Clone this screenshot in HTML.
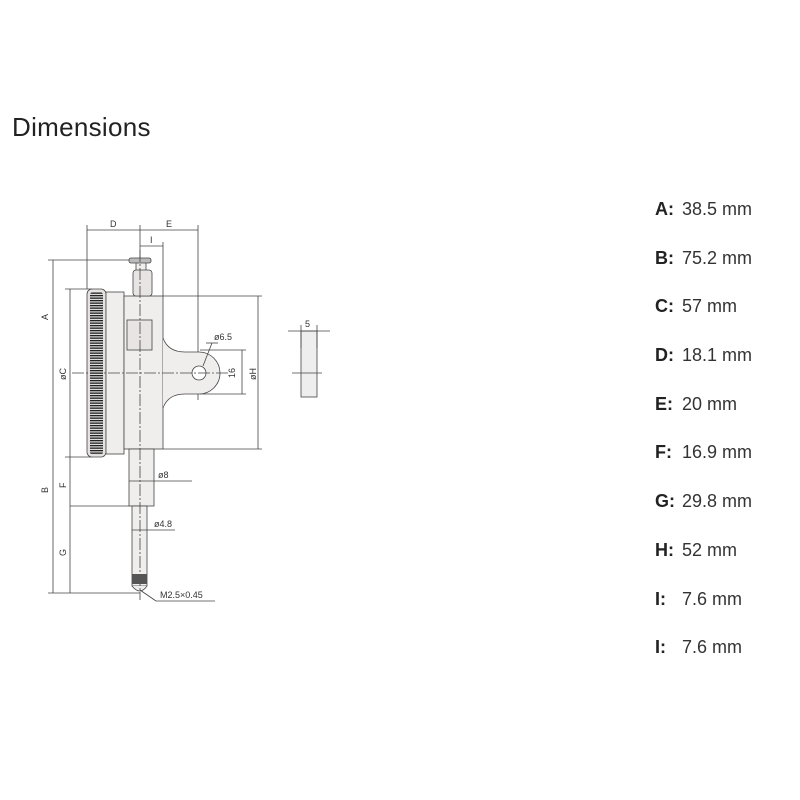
<!DOCTYPE html>
<html><head><style>
body{margin:0;width:800px;height:800px;background:#fff;position:relative;font-family:"Liberation Sans",sans-serif;overflow:hidden}
h1{position:absolute;left:12px;top:112px;margin:0;font-size:26px;font-weight:normal;color:#222;letter-spacing:0.3px}
.r{position:absolute;left:655px;font-size:18px;color:#333;line-height:20px}
.r b{display:inline-block;width:27px;color:#222}
</style></head><body>
<h1>Dimensions</h1>
<div class="r" style="top:199px"><b>A:</b>38.5 mm</div>
<div class="r" style="top:248px"><b>B:</b>75.2 mm</div>
<div class="r" style="top:296px"><b>C:</b>57 mm</div>
<div class="r" style="top:345px"><b>D:</b>18.1 mm</div>
<div class="r" style="top:394px"><b>E:</b>20 mm</div>
<div class="r" style="top:442px"><b>F:</b>16.9 mm</div>
<div class="r" style="top:491px"><b>G:</b>29.8 mm</div>
<div class="r" style="top:540px"><b>H:</b>52 mm</div>
<div class="r" style="top:589px"><b>I:</b>7.6 mm</div>
<div class="r" style="top:637px"><b>I:</b>7.6 mm</div>
<svg width="800" height="800" style="position:absolute;left:0;top:0" font-family="Liberation Sans, sans-serif" font-size="9" fill="#333">
<defs><pattern id="k" width="14" height="2.5" patternUnits="userSpaceOnUse"><rect width="14" height="2.5" fill="#ddd"/><rect width="14" height="1.3" fill="#222"/></pattern></defs>
<g stroke="#444" stroke-width="0.8" fill="none">
<line x1="87" y1="225" x2="87" y2="289"/><line x1="140" y1="225" x2="140" y2="260"/><line x1="198" y1="225" x2="198" y2="400"/>
<line x1="87" y1="230" x2="198" y2="230"/><line x1="163" y1="242" x2="163" y2="296"/>
<line x1="140" y1="246" x2="163" y2="246"/>
<line x1="48" y1="260" x2="130" y2="260"/><line x1="53" y1="260" x2="53" y2="593"/>
<line x1="48" y1="593" x2="140" y2="593"/>
<line x1="65" y1="289" x2="92" y2="289"/><line x1="65" y1="457" x2="92" y2="457"/>
<line x1="70" y1="289" x2="70" y2="457"/>
<line x1="70" y1="506" x2="130" y2="506"/><line x1="70" y1="457" x2="70" y2="593"/>
<line x1="163" y1="296" x2="262" y2="296"/><line x1="163" y1="449" x2="262" y2="449"/>
<line x1="258" y1="296" x2="258" y2="449"/>
<line x1="200" y1="350" x2="246" y2="350"/><line x1="200" y1="394" x2="246" y2="394"/>
<line x1="242" y1="350" x2="242" y2="394"/>
<rect x="87" y="289" width="19" height="168" rx="5" fill="#e6e2e2"/>
<rect x="106" y="292" width="18" height="162" fill="#f0eded"/>
<rect x="124" y="296" width="39" height="153" fill="#f0eded"/>
<path d="M163 338 Q168 352 185 352 L199 352 A21 21 0 0 1 199 394 L185 394 Q168 394 163 408" fill="#f0eded"/>
<circle cx="199" cy="373" r="7" fill="#fff"/>
<rect x="127" y="320" width="25" height="30" fill="#e8e4e4"/>
<rect x="136" y="262" width="10" height="10" fill="#f0eded"/>
<rect x="133" y="270" width="19" height="26" rx="3" fill="#e8e4e4"/>
<rect x="129" y="258" width="22" height="5" rx="2" fill="#bbb"/>
<rect x="129" y="449" width="25" height="57" fill="#f0eded"/>
<rect x="132" y="506" width="15" height="80" fill="#f0eded"/>
<path d="M132 586 Q140 596 147 586" fill="#eee"/>
<rect x="301" y="331" width="16" height="66" fill="#eee"/>
<line x1="288" y1="331" x2="330" y2="331"/><line x1="301" y1="325" x2="301" y2="348"/><line x1="317" y1="325" x2="317" y2="348"/>
<line x1="72" y1="373" x2="230" y2="373" stroke-dasharray="12 2 2 2"/>
<line x1="140" y1="250" x2="140" y2="600" stroke-dasharray="12 2 2 2"/>
<line x1="292" y1="373" x2="322" y2="373"/>
<line x1="129" y1="481" x2="192" y2="481"/><line x1="132" y1="530" x2="175" y2="530"/>
<line x1="140" y1="590" x2="156" y2="601"/><line x1="156" y1="601" x2="215" y2="601"/>
<line x1="206" y1="343" x2="218" y2="343"/><line x1="203" y1="366" x2="212" y2="343"/>
</g>
<rect x="90" y="292" width="13" height="163" rx="3" fill="url(#k)"/>
<rect x="132" y="574" width="15" height="10" fill="#555"/>
<text x="110" y="227">D</text><text x="166" y="227">E</text><text x="150" y="243">I</text>
<text x="214" y="340">ø6.5</text><text x="235" y="378" transform="rotate(-90 235 378)">16</text>
<text x="256" y="380" transform="rotate(-90 256 380)">øH</text>
<text x="48" y="320" transform="rotate(-90 48 320)">A</text>
<text x="48" y="493" transform="rotate(-90 48 493)">B</text>
<text x="66" y="380" transform="rotate(-90 66 380)">øC</text>
<text x="66" y="488" transform="rotate(-90 66 488)">F</text>
<text x="66" y="556" transform="rotate(-90 66 556)">G</text>
<text x="158" y="478">ø8</text><text x="154" y="527">ø4.8</text>
<text x="160" y="598">M2.5×0.45</text><text x="305" y="327">5</text>
</svg>
</body></html>
